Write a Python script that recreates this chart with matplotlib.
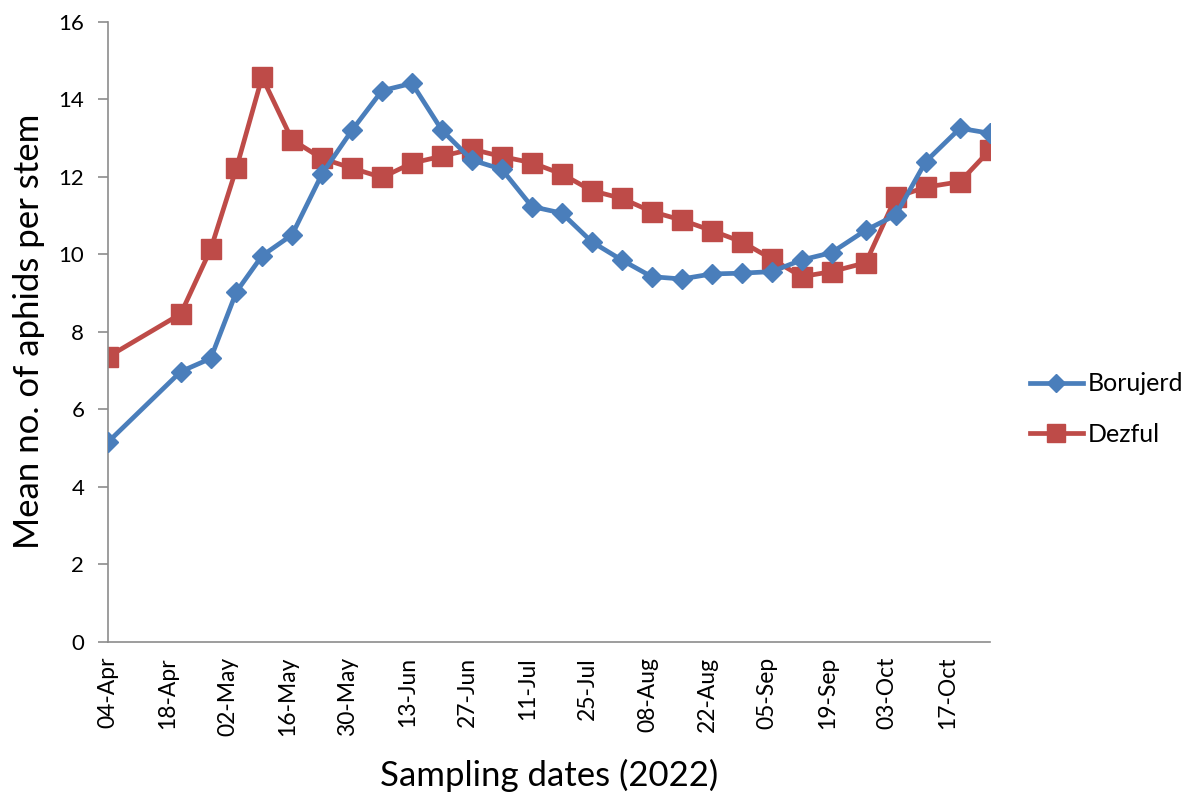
import matplotlib
matplotlib.use("Agg")
import matplotlib.pyplot as plt
import matplotlib.dates as mdates
import pandas as pd

plt.rcParams['font.family'] = ['Lato', 'DejaVu Sans']

# weekly sampling dates (2022)
dates = pd.to_datetime([
    '2022-04-04', '2022-04-21', '2022-04-28', '2022-05-04', '2022-05-10',
    '2022-05-17', '2022-05-24', '2022-05-31', '2022-06-07', '2022-06-14',
    '2022-06-21', '2022-06-28', '2022-07-05', '2022-07-12', '2022-07-19',
    '2022-07-26', '2022-08-02', '2022-08-09', '2022-08-16', '2022-08-23',
    '2022-08-30', '2022-09-06', '2022-09-13', '2022-09-20', '2022-09-28',
    '2022-10-05', '2022-10-12', '2022-10-20', '2022-10-27',
])

borujerd = [5.15, 6.97, 7.31, 9.03, 9.96, 10.50, 12.07, 13.20, 14.22, 14.41,
            13.20, 12.43, 12.19, 11.23, 11.06, 10.32, 9.85, 9.42, 9.36, 9.49,
            9.51, 9.55, 9.85, 10.04, 10.62, 11.01, 12.39, 13.25, 13.12]

dezful = [7.35, 8.46, 10.13, 12.22, 14.57, 12.95, 12.47, 12.22, 11.98, 12.35,
          12.53, 12.71, 12.52, 12.36, 12.07, 11.64, 11.44, 11.10, 10.88, 10.61,
          10.32, 9.88, 9.42, 9.55, 9.78, 11.47, 11.73, 11.87, 12.69]

tick_dates = pd.date_range('2022-04-04', '2022-10-17', freq='14D')

blue = '#4A7EBB'
red = '#BE4B48'
axis_grey = '#8C8C8C'

fig = plt.figure(figsize=(11.89, 7.92), dpi=100)
ax = fig.add_axes([0.0908, 0.1898, 0.7418, 0.7828])

ax.plot(dates, borujerd, color=blue, lw=3.4, marker='D', ms=10.5,
        mfc=blue, mec=blue, label='Borujerd', zorder=3)
ax.plot(dates, dezful, color=red, lw=3.4, marker='s', ms=15,
        mfc=red, mec=red, label='Dezful', zorder=2)

ax.set_xlim(dates[0], dates[-1])
ax.set_ylim(0, 16)
ax.set_yticks(range(0, 17, 2))
ax.set_xticks(tick_dates)
ax.xaxis.set_major_formatter(mdates.DateFormatter('%d-%b'))

for side in ('top', 'right'):
    ax.spines[side].set_visible(False)
for side in ('left', 'bottom'):
    ax.spines[side].set_color(axis_grey)
    ax.spines[side].set_linewidth(1.2)

ax.tick_params(axis='y', direction='out', length=7, width=1.2,
               color=axis_grey, labelsize=16, pad=10)
ax.tick_params(axis='x', length=0, labelsize=16.5, pad=11, labelrotation=90)

ax.set_xlabel('Sampling dates (2022)', fontsize=25, labelpad=16)
ax.set_ylabel('Mean no. of aphids per stem', fontsize=25, labelpad=10)

ax.legend(loc='center left', bbox_to_anchor=(1.02, 0.375), frameon=False,
          fontsize=18, handlelength=2.1, labelspacing=1.1,
          handletextpad=0.2, markerscale=0.85)

fig.savefig('out.png', dpi=100)
